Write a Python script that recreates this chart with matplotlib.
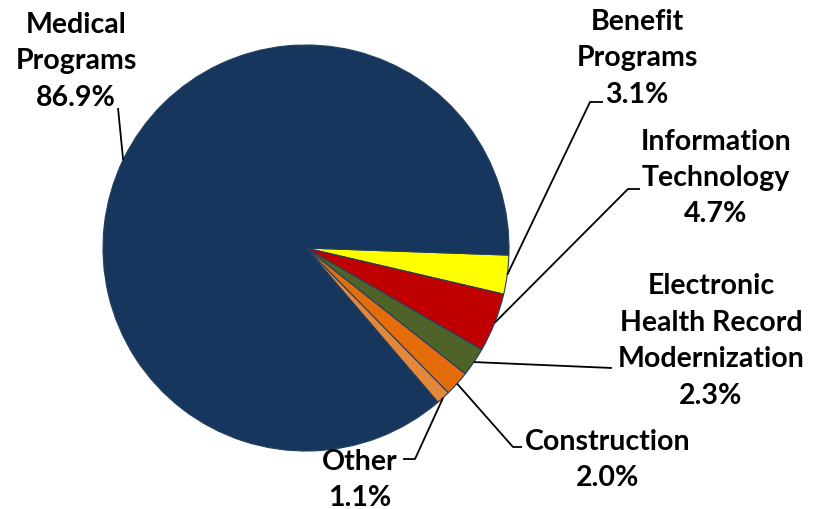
import matplotlib.pyplot as plt
import numpy as np

labels = ["Benefit\nPrograms", "Information\nTechnology",
          "Electronic\nHealth Record\nModernization", "Construction",
          "Other", "Medical\nPrograms"]
shares = [3.1, 4.7, 2.3, 2.0, 1.1, 86.9]
colors = ["#FFFF00", "#C00000", "#4F6228", "#E46C0A", "#E3883A", "#17365D"]

# label layout (pixel coords, y down): text block centre and leader elbow points
text_pos = [(637, 58), (716, 178), (711, 341), (608, 460), (360, 480), (76, 61)]
elbows = [[(590, 103), (603, 103)],
          [(628, 190), (640, 190)],
          [(612, 369)],
          [(513, 448), (522, 448)],
          [(415, 460), (403, 460)],
          [(118, 109)]]

fig = plt.figure(figsize=(8.28, 5.10), dpi=100)
ax = fig.add_axes([0, 0, 1, 1])

cx, cy, r = 306, 249, 203
wedges, _ = ax.pie(shares, colors=colors, startangle=2, counterclock=True,
                   center=(cx, cy), radius=r,
                   wedgeprops=dict(edgecolor="#243F60", linewidth=0.8))
ax.set_xlim(0, 828)
ax.set_ylim(510, 0)
ax.set_aspect("equal")
ax.axis("off")

for w, lab, share, (tx, ty), pts in zip(wedges, labels, shares, text_pos, elbows):
    mid = np.deg2rad((w.theta1 + w.theta2) / 2)
    path = [(cx + r * np.cos(mid), cy + r * np.sin(mid))] + pts
    xs, ys = zip(*path)
    ax.plot(xs, ys, color="black", lw=1.3, solid_capstyle="butt")
    ax.text(tx, ty, f"{lab}\n{share:.1f}%", ha="center", va="center",
            fontsize=20.5, fontweight="bold", family="Lato", linespacing=1.5,
            color="black")

fig.savefig("out.png", dpi=100)
